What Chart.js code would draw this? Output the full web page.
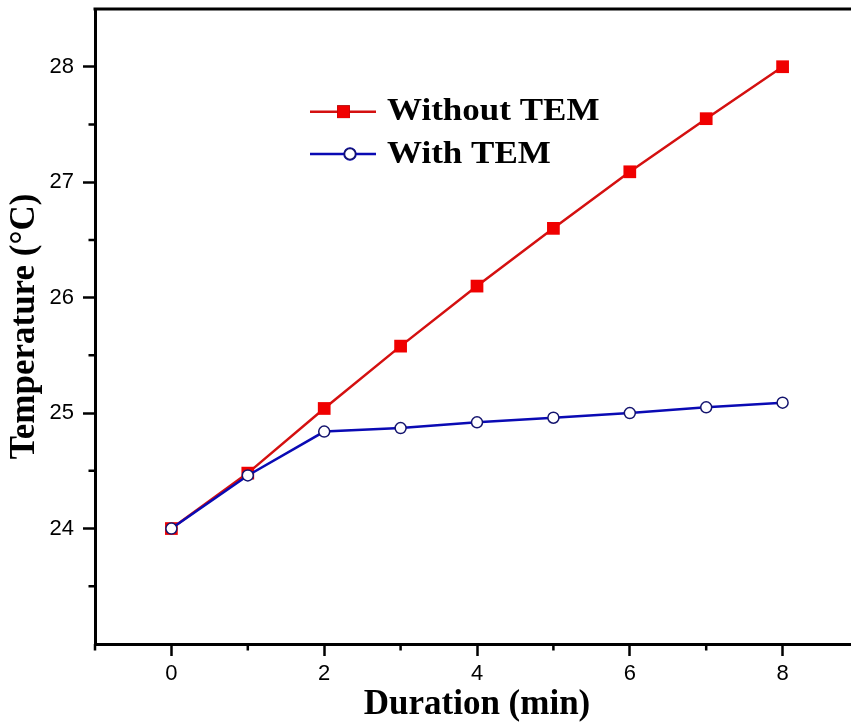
<!DOCTYPE html>
<html>
<head>
<meta charset="utf-8">
<title>Temperature vs duration</title>
<script src="https://cdn.jsdelivr.net/npm/chart.js@4/dist/chart.umd.min.js"></script>
<style>
  html, body { margin: 0; padding: 0; background: #fff; overflow: hidden; }
  #wrap { position: relative; width: 880px; height: 725px; }
</style>
</head>
<body>
<div id="wrap"><canvas id="chart" width="880" height="725"></canvas></div>
<script>
// Measured temperatures (°C) against elapsed time (min)
const durations = [0, 1, 2, 3, 4, 5, 6, 7, 8];
const withoutTem = [24.0, 24.48, 25.04, 25.58, 26.10, 26.60, 27.09, 27.55, 28.0];
const withTem = [24.0, 24.46, 24.84, 24.87, 24.92, 24.96, 25.00, 25.05, 25.09];
const seriesNames = ['Without TEM', 'With TEM'];

// Axis tick values
const xMajorTicks = [0, 2, 4, 6, 8];
const xMinorTicks = [-1, 1, 3, 5, 7];
const yMajorTicks = [24, 25, 26, 27, 28];
const yMinorTicks = [23.5, 24.5, 25.5, 26.5, 27.5];

const toPoints = ys => durations.map((x, i) => ({ x, y: ys[i] }));

// Minor ticks, the top frame line and the in-plot legend
const frameAndLegend = {
  id: 'frameAndLegend',
  afterDraw(chart, args, opts) {
    const { ctx, chartArea, scales } = chart;
    const xs = scales.x, ys = scales.y;
    ctx.save();
    ctx.strokeStyle = '#000';
    ctx.lineWidth = 2.5;
    ctx.beginPath();
    xMinorTicks.forEach(v => {
      const px = xs.getPixelForValue(v);
      ctx.moveTo(px, chartArea.bottom);
      ctx.lineTo(px, chartArea.bottom + opts.minorLength);
    });
    yMinorTicks.forEach(v => {
      const py = ys.getPixelForValue(v);
      ctx.moveTo(chartArea.left, py);
      ctx.lineTo(chartArea.left - opts.minorLength, py);
    });
    ctx.stroke();

    // top frame line
    ctx.lineWidth = 3;
    ctx.beginPath();
    ctx.moveTo(chartArea.left - 1.5, chartArea.top);
    ctx.lineTo(chart.width, chartArea.top);
    ctx.stroke();

    // legend
    chart.data.datasets.forEach((ds, i) => {
      const y = opts.rows[i];
      ctx.strokeStyle = ds.borderColor;
      ctx.lineWidth = ds.borderWidth;
      ctx.beginPath();
      ctx.moveTo(opts.lineStart, y);
      ctx.lineTo(opts.lineEnd, y);
      ctx.stroke();
      Chart.helpers.drawPoint(ctx, {
        pointStyle: ds.pointStyle,
        radius: ds.pointRadius,
        borderWidth: ds.pointBorderWidth,
        rotation: 0
      }, opts.markerX[i], y);
      ctx.fillStyle = ds.pointBackgroundColor;
      ctx.strokeStyle = ds.pointBorderColor;
      ctx.lineWidth = ds.pointBorderWidth;
      ctx.fill();
      if (ds.pointBorderWidth > 0) ctx.stroke();

      ctx.save();
      ctx.font = 'bold 31px "Liberation Serif", "Times New Roman", serif';
      ctx.fillStyle = '#000';
      ctx.textBaseline = 'alphabetic';
      ctx.textAlign = 'left';
      ctx.translate(opts.textX, opts.baselines[i]);
      ctx.scale(opts.textStretch, 1);
      ctx.fillText(ds.label, 0, 0);
      ctx.restore();
    });
    ctx.restore();
  }
};

const tickFont = { family: '"Liberation Sans", Arial, sans-serif', size: 22 };
const titleFont = { family: '"Liberation Serif", "Times New Roman", serif', size: 35, weight: 'bold', lineHeight: 1 };

new Chart(document.getElementById('chart'), {
  type: 'line',
  data: {
    datasets: [
      {
        label: seriesNames[0],
        data: toPoints(withoutTem),
        borderColor: '#d41010',
        borderWidth: 2.5,
        pointStyle: 'rect',
        pointRadius: 9,
        pointBorderWidth: 0,
        pointBackgroundColor: '#f00000',
        pointBorderColor: '#f00000',
        order: 1
      },
      {
        label: seriesNames[1],
        data: toPoints(withTem),
        borderColor: '#0a0ab4',
        borderWidth: 2.5,
        pointStyle: 'circle',
        pointRadius: 5.5,
        pointBorderWidth: 1.5,
        pointBackgroundColor: '#ffffff',
        pointBorderColor: '#14146e',
        order: 0
      }
    ]
  },
  options: {
    responsive: false,
    animation: false,
    events: [],
    layout: { padding: { left: 0, top: 9, right: 21, bottom: 0 } },
    plugins: {
      legend: { display: false },
      tooltip: { enabled: false },
      frameAndLegend: {
        minorLength: 6.5,
        rows: [111.7, 154],
        baselines: [120, 163],
        lineStart: 310,
        lineEnd: 376,
        markerX: [343.5, 350],
        textX: 387,
        textStretch: 1.13
      }
    },
    scales: {
      x: {
        type: 'linear',
        min: -1,
        max: 9,
        afterFit: s => { s.height = 81; s.paddingLeft = 0; s.paddingRight = 0; },
        border: { display: true, color: '#000', width: 3 },
        grid: {
          drawOnChartArea: false,
          drawTicks: true,
          tickLength: 12,
          tickWidth: 2.5,
          tickColor: c => xMajorTicks.includes(c.tick && c.tick.value) ? '#000' : 'rgba(0,0,0,0)'
        },
        ticks: {
          stepSize: 1,
          autoSkip: false,
          maxRotation: 0,
          padding: 5,
          color: '#000',
          font: tickFont,
          callback: v => xMajorTicks.includes(v) ? String(v) : null
        },
        title: {
          display: true,
          text: 'Duration (min)',
          color: '#000',
          font: titleFont,
          padding: { top: 0, bottom: 2.5 }
        }
      },
      y: {
        type: 'linear',
        min: 23,
        max: 28.5,
        afterFit: s => { s.width = 95; s.paddingTop = 0; s.paddingBottom = 0; },
        border: { display: true, color: '#000', width: 3 },
        grid: {
          drawOnChartArea: false,
          drawTicks: true,
          tickLength: 12,
          tickWidth: 2.5,
          tickColor: c => yMajorTicks.includes(c.tick && c.tick.value) ? '#000' : 'rgba(0,0,0,0)'
        },
        ticks: {
          stepSize: 0.5,
          autoSkip: false,
          padding: 9,
          color: '#000',
          font: tickFont,
          callback: v => yMajorTicks.includes(v) ? String(v) : null
        },
        title: {
          display: true,
          text: 'Temperature (°C)',
          color: '#000',
          font: titleFont,
          padding: { top: 7.5, bottom: 0 }
        }
      }
    }
  },
  plugins: [frameAndLegend]
});
</script>
</body>
</html>
